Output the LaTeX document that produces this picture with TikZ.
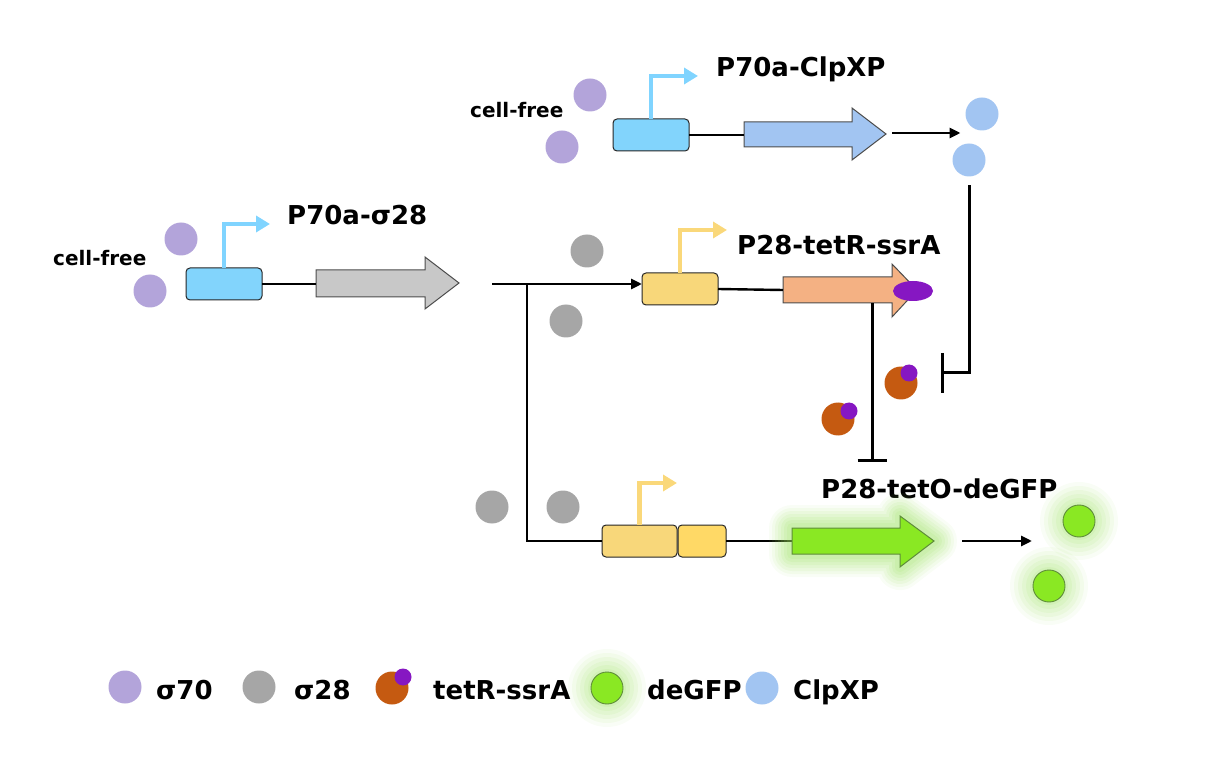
\documentclass[tikz,border=0pt]{standalone}
\usepackage{fontspec}
\setmainfont{DejaVu Sans}
\usetikzlibrary{arrows.meta,shapes.geometric}
\definecolor{sigA}{HTML}{B3A4DA}
\definecolor{sigB}{HTML}{A6A6A6}
\definecolor{clp}{HTML}{A2C5F2}
\definecolor{promblue}{HTML}{82D4FC}
\definecolor{promarrow}{HTML}{80D4FF}
\definecolor{promyel}{HTML}{F8D77A}
\definecolor{promyelB}{HTML}{FFD966}
\definecolor{yelarrow}{HTML}{FAD87A}
\definecolor{greyarr}{HTML}{C8C8C8}
\definecolor{salmon}{HTML}{F4B183}
\definecolor{tetr}{HTML}{C55A11}
\definecolor{ssra}{HTML}{8617C2}
\definecolor{gfp}{HTML}{8AE823}
\definecolor{gfpdraw}{HTML}{5E8C3A}
\definecolor{glowc}{HTML}{9BE060}
\newcommand\glowline[1]{%
  \foreach \w/\o in {46/0.06,40/0.08,34/0.09,28/0.1,22/0.11,16/0.12,10/0.13}{%
    \draw[glowc, line width=\w pt, opacity=\o, line join=round, line cap=round] #1;}}
\newcommand\glowdot[1]{%
  \foreach \r/\o in {39/0.06,35/0.08,31/0.09,27/0.1,23/0.11,19/0.12}{%
    \fill[glowc, opacity=\o] #1 circle[radius=\r pt];}}
\begin{document}
\begin{tikzpicture}[x=1pt,y=-1pt,
  wire/.style={line width=2.9pt, black},
  conn/.style={line width=2.9pt, black, -{Triangle[length=11pt,width=10pt]}},
  repress/.style={line width=3pt, black},
  promo/.style={line width=4.8pt, -{Triangle[length=14pt,width=16pt]}},
  pbox/.style={draw=black!85, line width=1pt, rounded corners=4pt, minimum width=76pt, minimum height=32pt, inner sep=0pt, outer sep=0pt},
  blob/.style={circle, inner sep=0pt, outer sep=0pt, minimum size=33pt},
  tag/.style={circle, inner sep=0pt, outer sep=0pt, minimum size=17pt, fill=ssra},
  gene/.style={draw=black!70, line width=1pt, line join=miter},
  lbl/.style={font=\fontsize{26}{30}\selectfont\bfseries, inner sep=0pt, anchor=base west},
  cf/.style={font=\fontsize{20}{24}\selectfont\bfseries, inner sep=0pt, anchor=base west}]
\useasboundingbox (0,0) rectangle (1211,767);

% ---------- top: P70a-ClpXP ----------
\node[cf] (cfA) at (470,118) {cell-free};
\node[blob, fill=sigA] (sA1) at (590,95) {};
\node[blob, fill=sigA] (sA2) at (562,147) {};
\node[pbox, fill=promblue] (pA) at (651,135) {};
\coordinate (pAt) at (698,76);
\draw[promo, promarrow] (pA.north) |- (pAt);
\node[lbl] (tA) at (716,77) {P70a-ClpXP};
\draw[gene, fill=clp] (744,122) -- (852,122) -- (852,108) -- (886,134) -- (852,160) -- (852,147) -- (744,147) -- cycle;
\coordinate (clpT) at (744,135);
\draw[wire] (pA.east) -- (clpT);
\node[blob, fill=clp] (c1) at (982,114) {};
\node[blob, fill=clp] (c2) at (969,160) {};
\coordinate (cS) at (892,133);
\draw[conn] (cS) -- ([xshift=-5pt]c1.west |- cS);
\coordinate (bar2) at (942,373);
\draw[repress] ([yshift=-9pt]c2.south) |- (bar2);
\draw[repress] ([yshift=20pt]bar2) -- ([yshift=-20pt]bar2);

% ---------- middle left: P70a-sigma28 ----------
\node[cf] (cfB) at (53,266) {cell-free};
\node[blob, fill=sigA] (sB1) at (181,239) {};
\node[blob, fill=sigA] (sB2) at (150,291) {};
\node[pbox, fill=promblue] (pB) at (224,284) {};
\coordinate (pBt) at (270,224);
\draw[promo, promarrow] (pB.north) |- (pBt);
\node[lbl] (tB) at (287,225) {P70a-σ28};
\draw[gene, fill=greyarr] (316,270) -- (425,270) -- (425,257) -- (459,283) -- (425,309) -- (425,297) -- (316,297) -- cycle;
\coordinate (grT) at (316,284);
\draw[wire] (pB.east) -- (grT);

% ---------- middle: P28-tetR-ssrA ----------
\coordinate (split0) at (492,284);
\coordinate (splitJ) at (527,284);
\node[blob, fill=sigB] (g1) at (587,251) {};
\node[blob, fill=sigB] (g2) at (566,321) {};
\node[pbox, fill=promyel] (pC) at (680,289) {};
\draw[conn] (split0) -- (pC.west |- split0);
\coordinate (pCt) at (727,230);
\draw[promo, yelarrow] (pC.north) |- (pCt);
\node[lbl] (tC) at (737,255) {P28-tetR-ssrA};
\draw[gene, fill=salmon] (783,277) -- (892,277) -- (892,264) -- (917,290) -- (892,317) -- (892,303) -- (783,303) -- cycle;
\coordinate (saT) at (783,290);
\draw[line width=2.4pt] (pC.east) -- (saT);
\node[ellipse, fill=ssra, inner sep=0pt, minimum width=40pt, minimum height=20pt] (ell) at (913,291) {};
\coordinate (saB) at (872,303);
\coordinate (bar1) at (872,460);
\draw[repress] (saB) -- (bar1);
\draw[repress] ([xshift=-14.5pt]bar1) -- ([xshift=14.5pt]bar1);
\node[blob, fill=tetr] (r1) at (901,383) {};
\node[tag] (r1t) at (909,373) {};
\node[blob, fill=tetr] (r2) at (838,419) {};
\node[tag] (r2t) at (849,411) {};

% ---------- bottom: P28-tetO-deGFP ----------
\node[blob, fill=sigB] (g3) at (492,507) {};
\node[blob, fill=sigB] (g4) at (563,507) {};
\node[pbox, fill=promyel, minimum width=75pt] (pD) at (639.5,541) {};
\node[pbox, fill=promyelB, minimum width=48pt] (pE) at (702,541) {};
\draw[wire] (splitJ) |- (pD.west);
\coordinate (pDt) at (677,483);
\draw[promo, yelarrow] (pD.north) |- (pDt);
\node[lbl] (tD) at (821,498) {P28-tetO-deGFP};
\coordinate (gfT) at (792,541);
\draw[wire] (pE.east) -- (gfT);
\glowline{(792,528) -- (900,528) -- (900,516) -- (934,541) -- (900,567) -- (900,554) -- (792,554) -- cycle}
\draw[gene, draw=gfpdraw, fill=gfp] (792,528) -- (900,528) -- (900,516) -- (934,541) -- (900,567) -- (900,554) -- (792,554) -- cycle;
\glowdot{(1079,521)}
\glowdot{(1049,586)}
\node[blob, fill=gfp, draw=gfpdraw, line width=0.9pt, minimum size=32pt] (d1) at (1079,521) {};
\node[blob, fill=gfp, draw=gfpdraw, line width=0.9pt, minimum size=32pt] (d2) at (1049,586) {};
\coordinate (gS) at (962,541);
\coordinate (gE) at (1032,541);
\draw[conn] (gS) -- (gE);

% ---------- legend ----------
\node[blob, fill=sigA] (l1) at (125,687) {};
\node[lbl] (l1t) at (156,699) {σ70};
\node[blob, fill=sigB] (l2) at (259,687) {};
\node[lbl] (l2t) at (294,699) {σ28};
\node[blob, fill=tetr] (l3) at (392,688) {};
\node[tag] (l3d) at (403,677) {};
\node[lbl] (l3t) at (433,699) {tetR-ssrA};
\glowdot{(607,688)}
\node[blob, fill=gfp, draw=gfpdraw, line width=0.9pt, minimum size=32pt] (l4) at (607,688) {};
\node[lbl] (l4t) at (647,699) {deGFP};
\node[blob, fill=clp] (l5) at (762,688) {};
\node[lbl] (l5t) at (793,699) {ClpXP};
\end{tikzpicture}
\end{document}
